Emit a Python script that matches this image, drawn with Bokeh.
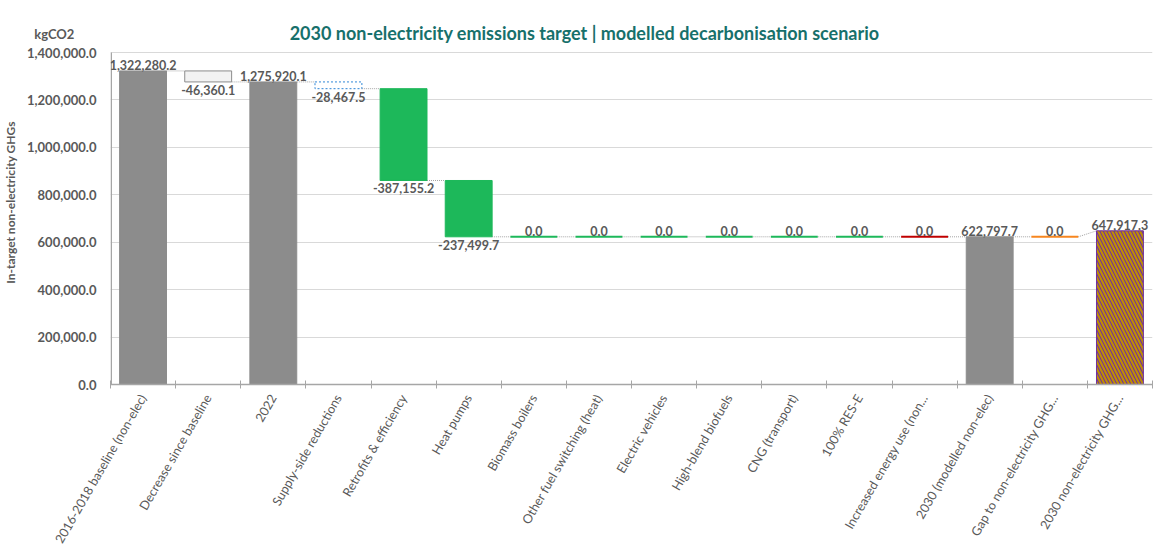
import math
from bokeh.plotting import figure
from bokeh.models import Range1d, FixedTicker, NumeralTickFormatter, Label, ColumnDataSource, LabelSet
from bokeh.embed import file_html
from bokeh.resources import INLINE
from bokeh.core.properties import value

# ---------------- data ----------------
categories = [
    "2016-2018 baseline (non-elec)", "Decrease since baseline", "2022",
    "Supply-side reductions", "Retrofits & efficiency", "Heat pumps",
    "Biomass boilers", "Other fuel switching (heat)", "Electric vehicles",
    "High-blend biofuels", "CNG (transport)", "100% RES-E",
    "Increased energy use (non...", "2030 (modelled non-elec)",
    "Gap to non-electricity GHG...", "2030 non-electricity GHG...",
]
values = [1322280.2, -46360.1, 1275920.1, -28467.5, -387155.2, -237499.7,
          0.0, 0.0, 0.0, 0.0, 0.0, 0.0, 0.0, 622797.7, 0.0, 647917.3]
kinds = ["total", "delta", "total", "delta", "delta", "delta",
         "delta", "delta", "delta", "delta", "delta", "delta", "delta",
         "total", "delta", "target"]
y_ticks = [0, 200000, 400000, 600000, 800000, 1000000, 1200000, 1400000]
y_max = 1400000
unit_label = "kgCO2"
title_text = "2030 non-electricity emissions target | modelled decarbonisation scenario"

# ---------------- styles / layout ----------------
GRAY = "#8c8c8c"
GREEN = "#1db85a"
fill_colors = [GRAY, "#f2f2f2", GRAY, "white", GREEN, GREEN,
               GREEN, GREEN, GREEN, GREEN, GREEN, GREEN, "#c00000",
               GRAY, "#f7861f", "#7030a0"]
line_colors = [GRAY, "#8c8c8c", GRAY, "#2e86d6", GREEN, GREEN,
               GREEN, GREEN, GREEN, GREEN, GREEN, GREEN, "#c00000",
               GRAY, "#f7861f", "#7030a0"]
TXT = "#595959"
FONT = "Lato"
BW = 0.72
W, H = 1159, 556
F_LEFT, F_RIGHT, F_TOP, F_BOTTOM = 108, 1152, 20, 384   # frame edges (px)
Y_TOP_PX = 52                                           # px of y_max
px_per_val = (F_BOTTOM - Y_TOP_PX) / y_max
range_end = (F_BOTTOM - F_TOP) / px_per_val

n = len(categories)
xs = list(range(n))
px_per_x = (F_RIGHT - F_LEFT) / n


def px_to_x(px):
    return -0.5 + (px - F_LEFT) / px_per_x


def px_to_y(py):
    return (F_BOTTOM - py) / px_per_val


# ---------------- waterfall geometry ----------------
bottoms, tops, starts, ends = [], [], [], []
level = 0.0
for v, k in zip(values, kinds):
    if k in ("total", "target"):
        bottoms.append(0.0); tops.append(v)
        starts.append(v); ends.append(v)
        level = v
    else:
        s, e = level, level + v
        bottoms.append(min(s, e)); tops.append(max(s, e))
        starts.append(s); ends.append(e)
        level = e

p = figure(width=W, height=H, output_backend="svg", toolbar_location=None,
           x_range=Range1d(-0.5, n - 0.5), y_range=Range1d(0, range_end),
           min_border_left=F_LEFT, min_border_right=W - F_RIGHT,
           min_border_top=F_TOP, min_border_bottom=H - F_BOTTOM)
p.outline_line_color = None
p.background_fill_color = "white"
p.border_fill_color = "white"

# grid
p.xgrid.grid_line_color = None
p.ygrid.grid_line_color = "#d9d9d9"
p.ygrid.ticker = FixedTicker(ticks=y_ticks)

# y axis (unit label sits as an extra tick label above the top tick)
unit_y = px_to_y(33)
p.yaxis.ticker = FixedTicker(ticks=y_ticks + [unit_y])
p.yaxis.formatter = NumeralTickFormatter(format="0,0.0")
p.yaxis.major_label_overrides = {unit_y: unit_label + "\u00a0" * 7}
p.yaxis.axis_label = "In-target non-electricity GHGs"
p.yaxis.axis_label_text_font = FONT
p.yaxis.axis_label_text_font_size = "12px"
p.yaxis.axis_label_text_font_style = "bold"
p.yaxis.axis_label_text_color = TXT
p.yaxis.axis_label_standoff = 6
p.yaxis.major_label_text_font = FONT
p.yaxis.major_label_text_font_size = "13px"
p.yaxis.major_label_text_font_style = "bold"
p.yaxis.major_label_text_color = TXT
p.yaxis.major_label_standoff = 8
p.yaxis.major_tick_line_color = None
p.yaxis.minor_tick_line_color = None
p.yaxis.axis_line_color = None
# visible y-axis line only from 0 to the top tick
p.segment(x0=[px_to_x(F_LEFT + 0.75)], x1=[px_to_x(F_LEFT + 0.75)], y0=[0], y1=[y_max],
          line_color="#a6a6a6", line_width=1.5)

# x axis
p.xaxis.ticker = FixedTicker(ticks=xs, minor_ticks=[i - 0.5 for i in range(n + 1)])
p.xaxis.major_label_overrides = {i: c for i, c in enumerate(categories)}
p.xaxis.major_label_orientation = math.pi / 3
p.xaxis.major_label_text_font = FONT
p.xaxis.major_label_text_font_size = "12.6px"
p.xaxis.major_label_text_color = TXT
p.xaxis.major_tick_line_color = None
p.xaxis.minor_tick_line_color = "#a6a6a6"
p.xaxis.minor_tick_in = 4
p.xaxis.minor_tick_out = 4
p.xaxis.axis_line_color = "#a6a6a6"
p.xaxis.axis_line_width = 1.5
p.xaxis.major_label_standoff = 5

# connectors
cx0, cx1, cy0, cy1 = [], [], [], []
for i in range(n - 1):
    cx0.append(xs[i] + BW / 2); cx1.append(xs[i + 1] - BW / 2)
    cy0.append(ends[i]); cy1.append(starts[i + 1] if kinds[i + 1] != "target" else tops[i + 1])
p.segment(x0=cx0, y0=cy0, x1=cx1, y1=cy1, line_color="#a6a6a6", line_dash="1 1", line_width=1)

# bars
bar_idx = [i for i in range(n) if values[i] != 0 and kinds[i] != "target" and i != 3]
src = ColumnDataSource(dict(x=[xs[i] for i in bar_idx], b=[bottoms[i] for i in bar_idx],
                            t=[tops[i] for i in bar_idx], f=[fill_colors[i] for i in bar_idx],
                            l=[line_colors[i] for i in bar_idx]))
p.vbar(x="x", bottom="b", top="t", width=BW, fill_color="f", line_color="l", line_width=1, source=src)

# dashed supply-side bar
p.vbar(x=[xs[3]], bottom=[bottoms[3]], top=[tops[3]], width=BW, fill_color=fill_colors[3],
       line_color=line_colors[3], line_dash="2 2", line_width=1)

# hatched target bar
ti = kinds.index("target")
p.vbar(x=[xs[ti]], bottom=[bottoms[ti]], top=[tops[ti]], width=BW, fill_color=fill_colors[ti],
       line_color=line_colors[ti], hatch_pattern="\\", hatch_color="#c09000",
       hatch_scale=7, hatch_weight=2.1)

# zero-value bars as lines
z_idx = [i for i in range(n) if values[i] == 0]
p.segment(x0=[xs[i] - BW / 2 for i in z_idx], x1=[xs[i] + BW / 2 for i in z_idx],
          y0=[tops[i] for i in z_idx], y1=[tops[i] for i in z_idx],
          line_color=[line_colors[i] for i in z_idx], line_width=2)

# data labels
up_idx = [i for i in range(n) if values[i] >= 0]
dn_idx = [i for i in range(n) if values[i] < 0]
up = ColumnDataSource(dict(x=[xs[i] for i in up_idx], y=[tops[i] for i in up_idx],
                           t=["{:,.1f}".format(values[i]) for i in up_idx]))
dn = ColumnDataSource(dict(x=[xs[i] for i in dn_idx], y=[bottoms[i] for i in dn_idx],
                           t=["{:,.1f}".format(values[i]) for i in dn_idx]))
p.add_layout(LabelSet(x="x", y="y", text="t", source=up, text_align="center",
                      text_baseline="bottom", y_offset=1, text_font=value(FONT),
                      text_font_size="12.5px", text_font_style="bold", text_color=TXT))
p.add_layout(LabelSet(x="x", y="y", text="t", source=dn, text_align="center",
                      text_baseline="top", y_offset=-3, text_font=value(FONT),
                      text_font_size="12.5px", text_font_style="bold", text_color=TXT))

# chart title (inside the frame's top band)
p.add_layout(Label(x=px_to_x(583), y=px_to_y(32), text=title_text, text_align="center",
                   text_baseline="middle", text_font=FONT, text_font_size="18px",
                   text_font_style="bold", text_color="#17706b"))

open("out.html", "w").write(file_html(p, INLINE))
